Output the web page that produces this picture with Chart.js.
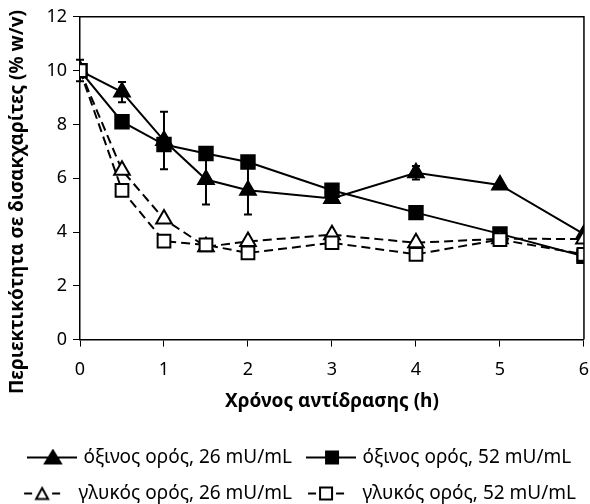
<!DOCTYPE html>
<html>
<head>
<meta charset="utf-8">
<script src="https://cdn.jsdelivr.net/npm/chart.js@4.4.1/dist/chart.umd.min.js"></script>
<style>
  html, body { margin: 0; padding: 0; background: #fff; overflow: hidden; }
  #wrap { width: 590px; height: 504px; }
</style>
</head>
<body>
<div id="wrap"><canvas id="grafico"></canvas></div>
<script>
// tiempos de muestreo (h)
const timeH = [0, 0.5, 1, 1.5, 2, 3, 4, 5, 6];

// όξινος ορός, 26 mU/mL
const acid26 = [10, 9.2, 7.4, 5.95, 5.55, 5.25, 6.2, 5.75, 3.92];
const acid26Err = [0.4, 0.38, 1.07, 0.93, 0.9, 0, 0.25, 0, 0];
// όξινος ορός, 52 mU/mL
const acid52 = [10, 8.1, 7.25, 6.92, 6.6, 5.55, 4.72, 3.93, 3.1];
const acid52Err = [0, 0, 0, 0, 0, 0, 0, 0, 0];
// γλυκός ορός, 26 mU/mL
const sweet26 = [10, 6.3, 4.48, 3.45, 3.65, 3.9, 3.6, 3.75, 3.74];
const sweet26Err = [0, 0, 0, 0, 0, 0, 0, 0, 0];
// γλυκός ορός, 52 mU/mL
const sweet52 = [10, 5.55, 3.66, 3.52, 3.22, 3.6, 3.17, 3.72, 3.17];
const sweet52Err = [0, 0, 0, 0, 0, 0, 0, 0, 0];

const seriesNames = [
  'όξινος ορός, 26 mU/mL',
  'όξινος ορός, 52 mU/mL',
  'γλυκός ορός, 26 mU/mL',
  'γλυκός ορός, 52 mU/mL'
];
const yTitle = 'Περιεκτικότητα σε δισακχαρίτες (% w/v)';
const xTitle = 'Χρόνος αντίδρασης (h)';

const FONT = "'Noto Sans', 'DejaVu Sans', sans-serif";

const toPoints = vals => vals.map((v, i) => ({ x: timeH[i], y: v }));

// icono de leyenda: línea + marcador
function iconoLeyenda(shape, filled, dashed) {
  const c = document.createElement('canvas');
  c.width = 50; c.height = 18;
  const g = c.getContext('2d');
  g.strokeStyle = '#000';
  g.lineWidth = 2;
  g.beginPath();
  if (dashed) {
    g.moveTo(2, 9); g.lineTo(10, 9);
    g.moveTo(30, 9); g.lineTo(38, 9);
  } else {
    g.moveTo(0, 9); g.lineTo(50, 9);
  }
  g.stroke();
  g.fillStyle = filled ? '#000' : '#fff';
  g.beginPath();
  const cx = dashed ? 20 : 26;
  if (shape === 'triangle') {
    if (filled) { g.moveTo(cx, 2); g.lineTo(cx + 8, 15); g.lineTo(cx - 8, 15); }
    else { g.moveTo(cx, 3.5); g.lineTo(cx + 6, 14.5); g.lineTo(cx - 6, 14.5); }
    g.closePath();
  } else {
    g.rect(cx - 6, 3, 12, 12);
  }
  g.fill();
  g.stroke();
  return c;
}

const errorBarsPlugin = {
  id: 'errorBars',
  beforeDatasetsDraw(chart) {
    const { ctx, scales: { x, y } } = chart;
    ctx.save();
    ctx.strokeStyle = '#000';
    ctx.lineWidth = 2;
    chart.data.datasets.forEach(ds => {
      (ds.errores || []).forEach((e, i) => {
        if (!e) return;
        const px = x.getPixelForValue(timeH[i]);
        const top = y.getPixelForValue(ds.data[i].y + e);
        const bot = y.getPixelForValue(ds.data[i].y - e);
        ctx.beginPath();
        ctx.moveTo(px, top); ctx.lineTo(px, bot);
        ctx.moveTo(px - 4, top); ctx.lineTo(px + 4, top);
        ctx.moveTo(px - 4, bot); ctx.lineTo(px + 4, bot);
        ctx.stroke();
      });
    });
    ctx.restore();
  },
  afterDraw(chart) {
    const { ctx, chartArea: a } = chart;
    ctx.save();
    // marco superior y derecho
    ctx.strokeStyle = '#000';
    ctx.lineWidth = 1.5;
    ctx.beginPath();
    ctx.moveTo(a.left, a.top); ctx.lineTo(a.right, a.top); ctx.lineTo(a.right, a.bottom);
    ctx.stroke();
    // título del eje y
    ctx.translate(18, 202);
    ctx.rotate(-Math.PI / 2);
    ctx.font = "bold 19px " + FONT;
    ctx.fillStyle = '#000';
    ctx.textAlign = 'center';
    ctx.textBaseline = 'middle';
    ctx.fillText(yTitle, 0, 0);
    ctx.restore();
  }
};

const estilos = [
  { data: acid26, err: acid26Err, shape: 'triangle', filled: true, dashed: false, r: 9, order: 4 },
  { data: acid52, err: acid52Err, shape: 'rect', filled: true, dashed: false, r: 9.5, order: 3 },
  { data: sweet26, err: sweet26Err, shape: 'triangle', filled: false, dashed: true, r: 9, order: 2 },
  { data: sweet52, err: sweet52Err, shape: 'rect', filled: false, dashed: true, r: 9, order: 1 }
];

const datasets = estilos.map((s, i) => ({
  label: seriesNames[i],
  data: toPoints(s.data),
  errores: s.err,
  order: s.order,
  borderColor: '#000',
  borderWidth: 2,
  borderDash: s.dashed ? [9, 5] : [],
  pointStyle: s.shape,
  pointRadius: s.r,
  pointHoverRadius: s.r,
  pointBackgroundColor: s.filled ? '#000' : '#fff',
  pointBorderColor: '#000',
  pointBorderWidth: 2,
  fill: false,
  tension: 0,
  icono: iconoLeyenda(s.shape, s.filled, s.dashed)
}));

const grafico = new Chart(document.getElementById('grafico').getContext('2d'), {
  type: 'line',
  data: { datasets },
  options: {
    responsive: true,
    maintainAspectRatio: false,
    animation: false,
    layout: { padding: { left: 0, right: 0, top: 6, bottom: 0 } },
    plugins: {
      tooltip: { enabled: false },
      legend: {
        position: 'bottom',
        maxHeight: 73,
        labels: {
          usePointStyle: true,
          pointStyleWidth: 44,
          boxHeight: 18,
          font: { family: FONT, size: 19 },
          color: '#000',
          padding: 17,
          generateLabels: chart => chart.data.datasets.map((ds, i) => ({
            text: ds.label,
            pointStyle: ds.icono,
            datasetIndex: i,
            fontColor: '#000',
            lineWidth: 0
          }))
        }
      }
    },
    scales: {
      x: {
        type: 'linear',
        min: 0, max: 6,
        ticks: { stepSize: 1, color: '#000', font: { family: FONT, size: 18 }, padding: 12 },
        grid: { drawOnChartArea: false, drawTicks: true, tickLength: 7, color: '#000' },
        border: { color: '#000', width: 1.5 },
        title: { display: true, text: xTitle, color: '#000', font: { family: FONT, size: 19, weight: 'bold' }, padding: { top: -2, bottom: 18 } }
      },
      y: {
        min: 0, max: 12,
        ticks: { stepSize: 2, color: '#000', font: { family: FONT, size: 18 }, padding: 6 },
        grid: { drawOnChartArea: false, drawTicks: true, tickLength: 7, color: '#000' },
        border: { color: '#000', width: 1.5 },
        // espacio para el título vertical
        afterFit: scale => { scale.width = 80; }
      }
    }
  },
  plugins: [errorBarsPlugin]
});

// el área del gráfico debe terminar en x = 584 como en la figura
const dx = 584 - grafico.chartArea.right;
if (Math.abs(dx) > 0.5) {
  document.getElementById('wrap').style.width = (590 + dx) + 'px';
  grafico.resize();
}
</script>
</body>
</html>
